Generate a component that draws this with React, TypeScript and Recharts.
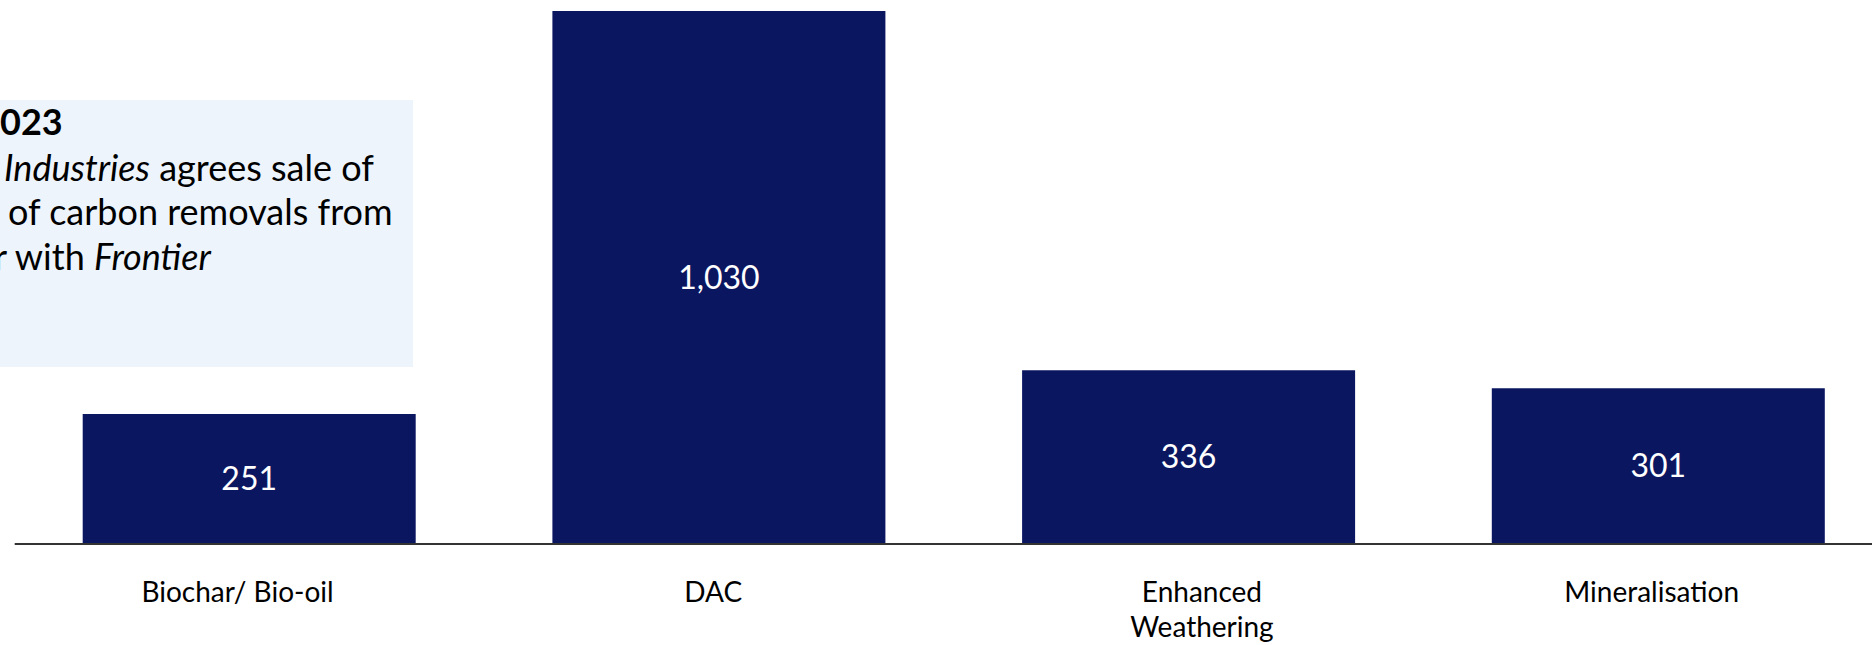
import { Bar, BarChart, LabelList, XAxis, YAxis } from "recharts";

const categories = ["Biochar/ Bio-oil", "DAC", "Enhanced\nWeathering", "Mineralisation"];
const tonnes = [251, 1030, 336, 301];

const data = categories.map((name, i) => ({ name, value: tonnes[i] }));

const NAVY = "#0B1661";
const FONT = "Lato, 'Open Sans', sans-serif";

// the source labels were hand-placed text boxes, slightly off-centre
const LABEL_NUDGE = [-12, -6, 13, -7];

function CategoryTick(props: any) {
  const { x, y, payload, index } = props;
  const lines = String(payload.value).split("\n");
  const cx = x + (LABEL_NUDGE[index] ?? 0);
  return (
    <text x={cx} y={y + 58} textAnchor="middle" fill="#000" fontFamily={FONT} fontSize={28}>
      {lines.map((l, i) => (
        <tspan key={i} x={cx} dy={i === 0 ? 0 : 35}>
          {l}
        </tspan>
      ))}
    </text>
  );
}

function NoteBox() {
  return (
    <svg
      width={1872}
      height={645}
      style={{ position: "absolute", left: 0, top: 0, pointerEvents: "none" }}
    >
      <rect x={-20} y={100} width={433} height={267} fill="#EDF4FC" />
      <g fontFamily={FONT} fontSize={36} fill="#000">
        <text x={0} y={135} fontWeight={700}>
          023
        </text>
        <text x={4} y={181}>
          <tspan fontStyle="italic">Industries</tspan> agrees sale of
        </text>
        <text x={8} y={225}>
          of carbon removals from
        </text>
        <text x={-6} y={270}>
          r with <tspan fontStyle="italic">Frontier</tspan>
        </text>
      </g>
    </svg>
  );
}

export default function App() {
  return (
    <div
      style={{
        position: "fixed",
        left: 0,
        top: 0,
        width: 1872,
        height: 645,
        overflow: "hidden",
        background: "#fff",
      }}
    >
      <NoteBox />
      <div style={{ position: "absolute", left: 0, top: 0 }}>
        <BarChart
          width={1900}
          height={645}
          data={data}
          margin={{ top: 11, right: 6.5, left: 14.7, bottom: 0 }}
        >
          <XAxis
            dataKey="name"
            interval={0}
            height={101}
            tickLine={false}
            tickSize={0}
            tickMargin={0}
            axisLine={{ stroke: "#333", strokeWidth: 2 }}
            tick={<CategoryTick />}
          />
          <YAxis hide domain={[0, 1030]} />
          <Bar dataKey="value" fill={NAVY} barSize={333} isAnimationActive={false}>
            <LabelList
              dataKey="value"
              position="center"
              fill="#fff"
              fontFamily={FONT}
              fontSize={32}
              formatter={(v: any) => Number(v).toLocaleString("en-US")}
            />
          </Bar>
        </BarChart>
      </div>
    </div>
  );
}
